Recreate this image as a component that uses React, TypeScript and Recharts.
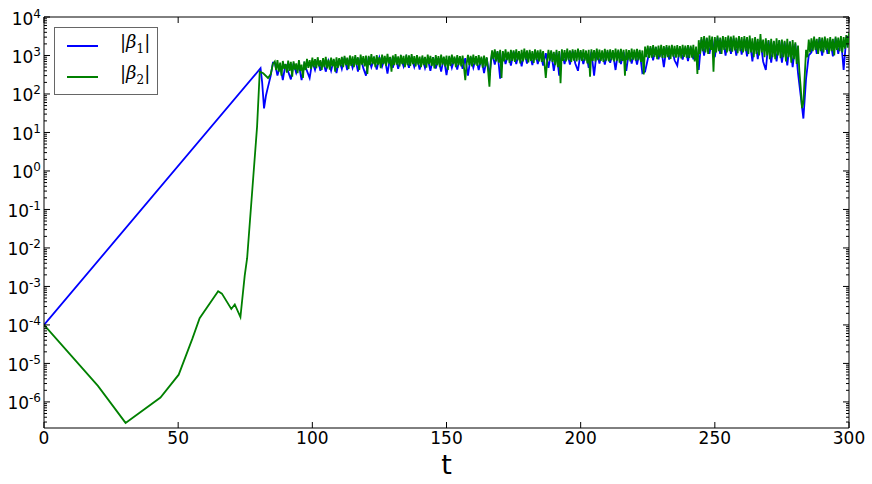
import React from 'react';
import { LineChart, Line, XAxis, YAxis, ReferenceLine, Label } from 'recharts';

// smooth early part of the run (t, value)
const blueEarlyT = [0, 80.7, 81.3, 82, 82.7, 83.5, 84.5, 85.3];
const blueEarlyV = [1e-4, 465, 200, 42, 90, 155, 300, 650];

const greenEarlyT = [0, 20.1, 30.4, 43.4, 50.2, 55.3, 58, 64.9, 66.3, 69.8, 71.1, 73.2, 74.8, 75.7, 79.4, 80.4, 81.7, 83.5, 84.5, 85.3];
const greenEarlyV = [1e-4, 2.6e-6, 2.85e-7, 1.3e-6, 5.1e-6, 4.4e-5, 1.5e-4, 7.5e-4, 6.5e-4, 2.6e-4, 3.4e-4, 1.6e-4, 1.9e-3, 5.4e-3, 14, 380, 345, 260, 330, 600];

// noisy part, green every 0.5 from t = 86, blue every 1 from t = 86
const NOISE_START = 86;
const greenNoise = [
  700, 420, 760, 380, 650, 300, 720, 450, 600, 360,
  740, 400, 680, 280, 700, 430, 620, 350, 760, 400,
  580, 260, 700, 420, 820, 480, 760, 450, 880, 500,
  800, 470, 900, 520, 760, 420, 850, 500, 920, 460,
  780, 430, 880, 520, 820, 380, 900, 480, 850, 520,
  920, 500, 980, 560, 880, 450, 1000, 540, 950, 500,
  1020, 560, 900, 420, 1050, 580, 960, 520, 1000, 330,
  980, 560, 1080, 600, 940, 500, 1020, 580, 900, 470,
  1050, 600, 980, 540, 1100, 620, 920, 380, 1000, 560,
  1080, 580, 950, 520, 1040, 600, 980, 500, 1060, 560,
  1000, 540, 1080, 600, 960, 520, 1020, 580, 940, 500,
  1000, 560, 920, 480, 1050, 600, 980, 540, 900, 460,
  1020, 560, 960, 500, 1050, 580, 940, 520, 1000, 420,
  980, 540, 1060, 600, 940, 500, 1020, 560, 960, 520,
  1000, 500, 230, 600, 1040, 560, 980, 520, 1060, 580,
  960, 540, 1020, 580, 940, 480, 1000, 520, 900, 400,
  155, 700, 1350, 800, 1450, 700, 1300, 650, 1400, 260,
  1300, 700, 1450, 760, 1250, 640, 1400, 720, 1350, 680,
  1450, 750, 1300, 620, 1400, 700, 1500, 780, 1350, 660,
  1400, 720, 1300, 640, 1450, 760, 1350, 700, 1420, 680,
  1300, 640, 260, 700, 1400, 740, 1350, 680, 1250, 560,
  1400, 500, 1300, 190, 1450, 720, 1380, 700, 1500, 760,
  1350, 680, 1450, 740, 1400, 700, 1500, 760, 1380, 720,
  1450, 740, 1350, 620, 1400, 280, 1450, 720, 1380, 700,
  1500, 760, 1420, 720, 1350, 680, 1480, 740, 1400, 700,
  1450, 760, 1380, 700, 1500, 740, 1420, 650, 1480, 720,
  1400, 300, 1450, 760, 1380, 700, 1500, 780, 1420, 740,
  1480, 760, 1400, 680, 1350, 320, 1700, 900, 1800, 860,
  1750, 880, 1850, 920, 1700, 800, 1800, 900, 1900, 860,
  1750, 860, 1850, 900, 1800, 820, 1900, 940, 1780, 880,
  1850, 900, 1750, 840, 1900, 920, 1800, 880, 1850, 860,
  1800, 880, 1900, 700, 1700, 330, 2500, 1100, 3000, 1300,
  3200, 1200, 2900, 1100, 3300, 1400, 3100, 380, 3000, 1200,
  3300, 1300, 2900, 1100, 3200, 1400, 3000, 1200, 3300, 1300,
  3100, 1250, 3300, 1350, 2900, 1150, 3200, 1300, 3000, 1200,
  3200, 1300, 3000, 1100, 3300, 1200, 2800, 900, 3000, 1100,
  2700, 1000, 3600, 1200, 2600, 900, 2800, 1000, 2500, 800,
  2700, 900, 2400, 800, 2800, 1000, 2500, 850, 2600, 900,
  2400, 700, 2700, 900, 2300, 650, 2500, 800, 2200, 600,
  1800, 400, 150, 43, 60, 300, 1400, 900, 2600, 1200,
  2800, 1300, 3100, 1400, 2700, 1100, 3000, 1300, 2900, 1200,
  3100, 1400, 2800, 1100, 3000, 1300, 2700, 1000, 3100, 1400,
  2900, 1300, 3200, 1200, 3000, 1500, 3400, 1600, 3800,
];
const blueNoise = [
  650, 300, 560, 230, 600, 380, 240, 620, 350, 560,
  230, 600, 400, 260, 700, 420, 780, 400, 750, 380,
  720, 400, 760, 350, 800, 450, 880, 420, 850, 480,
  900, 380, 880, 470, 300, 900, 500, 820, 430, 880,
  520, 860, 340, 900, 480, 920, 450, 880, 520, 900,
  480, 900, 500, 850, 430, 880, 470, 820, 400, 900,
  460, 850, 380, 880, 310, 900, 480, 850, 430, 900,
  450, 850, 300, 900, 480, 880, 420, 850, 350, 850,
  300, 1200, 580, 1250, 250, 1200, 600, 1150, 550, 1250,
  600, 1200, 520, 1250, 620, 1200, 560, 1300, 600, 1200,
  550, 1150, 480, 1250, 400, 1200, 300, 1300, 600, 1200,
  580, 1300, 620, 400, 1250, 600, 1200, 480, 1250, 300,
  1300, 620, 1200, 580, 1250, 650, 1200, 420, 1300, 600,
  1250, 400, 1300, 620, 1200, 580, 1250, 350, 380, 800,
  1600, 750, 1650, 800, 1550, 500, 1650, 780, 1600, 750,
  550, 1650, 780, 1600, 720, 1650, 800, 1550, 420, 2600,
  1000, 2800, 1100, 2700, 900, 2900, 1100, 2800, 1000, 2900,
  1100, 2800, 1000, 2900, 1050, 2700, 950, 2600, 700, 2700,
  800, 2500, 700, 420, 2400, 650, 2300, 700, 2400, 650,
  2200, 550, 2300, 500, 2000, 350, 90, 23, 250, 1000,
  1200, 2700, 1100, 2800, 1000, 2700, 1100, 2600, 950, 2800,
  1100, 2800, 420, 2900, 3200,
];

const xTicks = [0, 50, 100, 150, 200, 250, 300];
const majorExponents = [-6, -5, -4, -3, -2, -1, 0, 1, 2, 3, 4];
const Y_MIN = 2.1e-7;
const Y_MAX = 1e4;

const series = [
  { key: 'b1', sub: '1', color: '#0000ff' },
  { key: 'b2', sub: '2', color: '#008000' },
];

const blueData = [
  ...blueEarlyT.map((t, i) => ({ t, v: blueEarlyV[i] })),
  ...blueNoise.map((v, i) => ({ t: NOISE_START + i, v })),
];
const greenData = [
  ...greenEarlyT.map((t, i) => ({ t, v: greenEarlyV[i] })),
  ...greenNoise.map((v, i) => ({ t: NOISE_START + i * 0.5, v })),
];

// major + minor log ticks inside the domain
const yTicks: number[] = [];
for (let e = -7; e <= 4; e++) {
  for (let m = 1; m <= 9; m++) {
    const v = m * Math.pow(10, e);
    if (v >= Y_MIN && v <= Y_MAX * 1.0001) yTicks.push(v);
  }
}

const W = 872;
const H = 484;
const PLOT = { left: 44, right: 849, top: 17, bottom: 428 };
const FONT = 'DejaVu Sans, sans-serif';

const YTick = (props: any) => {
  const { y, payload } = props;
  const v = payload.value;
  const lg = Math.log10(v);
  const e = Math.round(lg);
  const major = Math.abs(lg - e) < 1e-6 && majorExponents.includes(e);
  const len = major ? 6 : 3;
  return (
    <g>
      <line x1={PLOT.left} x2={PLOT.left + len} y1={y} y2={y} stroke="#000" strokeWidth={1} />
      <line x1={PLOT.right} x2={PLOT.right - len} y1={y} y2={y} stroke="#000" strokeWidth={1} />
      {major && (
        <text x={41} y={y + 7.5} textAnchor="end" fontFamily={FONT} fontSize={17} fill="#000">
          10
          <tspan dy={-7} fontSize={12}>{e < 0 ? '-' + Math.abs(e) : String(e)}</tspan>
        </text>
      )}
    </g>
  );
};

const XTick = (props: any) => {
  const { x, payload } = props;
  return (
    <g>
      <line x1={x} x2={x} y1={PLOT.bottom} y2={PLOT.bottom - 6} stroke="#000" strokeWidth={1} />
      <line x1={x} x2={x} y1={PLOT.top} y2={PLOT.top + 6} stroke="#000" strokeWidth={1} />
      <text x={x} y={PLOT.bottom + 16} textAnchor="middle" fontFamily={FONT} fontSize={17} fill="#000">
        {payload.value}
      </text>
    </g>
  );
};

const LegendBox = () => (
  <div
    style={{
      position: 'absolute',
      left: 54,
      top: 27,
      border: '1px solid #666',
      background: '#fff',
      width: 104,
      height: 68,
      boxSizing: 'border-box',
      padding: '2px 0 0 12px',
    }}
  >
    {series.map((s) => (
      <div key={s.key} style={{ display: 'flex', alignItems: 'center', height: 31 }}>
        <svg width={31} height={4} style={{ display: 'block' }}>
          <line x1={0} x2={31} y1={2} y2={2} stroke={s.color} strokeWidth={2} />
        </svg>
        <span
          style={{
            marginLeft: 22,
            fontFamily: 'DejaVu Serif, serif',
            fontSize: 18,
            color: '#000',
            lineHeight: '20px',
          }}
        >
          |<i>β</i>
          <sub style={{ fontSize: 12, fontStyle: 'normal' }}>{s.sub}</sub>|
        </span>
      </div>
    ))}
  </div>
);

export default function App() {
  return (
    <div style={{ position: 'absolute', left: 0, top: 0, width: W, height: H, background: '#fff' }}>
      <LineChart width={W} height={H} margin={{ top: PLOT.top, right: W - PLOT.right, bottom: 0, left: 0 }}>
        <XAxis
          dataKey="t"
          type="number"
          domain={[0, 300]}
          ticks={xTicks}
          interval={0}
          height={H - PLOT.bottom}
          allowDataOverflow
          tickLine={false}
          axisLine={{ stroke: '#000' }}
          tick={<XTick />}
        >
          <Label value="t" position="insideBottom" offset={10} style={{ fontFamily: FONT, fontSize: 27, fill: '#000' }} />
        </XAxis>
        <YAxis
          type="number"
          scale="log"
          domain={[Y_MIN, Y_MAX]}
          allowDataOverflow
          ticks={yTicks}
          interval={0}
          width={PLOT.left}
          tickLine={false}
          axisLine={{ stroke: '#000' }}
          tick={<YTick />}
        />
        <ReferenceLine x={300} stroke="#000" strokeWidth={1} />
        <ReferenceLine y={Y_MAX} stroke="#000" strokeWidth={1} />
        <Line
          data={blueData}
          dataKey="v"
          name={series[0].key}
          stroke={series[0].color}
          strokeWidth={1.8}
          dot={false}
          activeDot={false}
          isAnimationActive={false}
        />
        <Line
          data={greenData}
          dataKey="v"
          name={series[1].key}
          stroke={series[1].color}
          strokeWidth={1.8}
          dot={false}
          activeDot={false}
          isAnimationActive={false}
        />
      </LineChart>
      <LegendBox />
    </div>
  );
}
